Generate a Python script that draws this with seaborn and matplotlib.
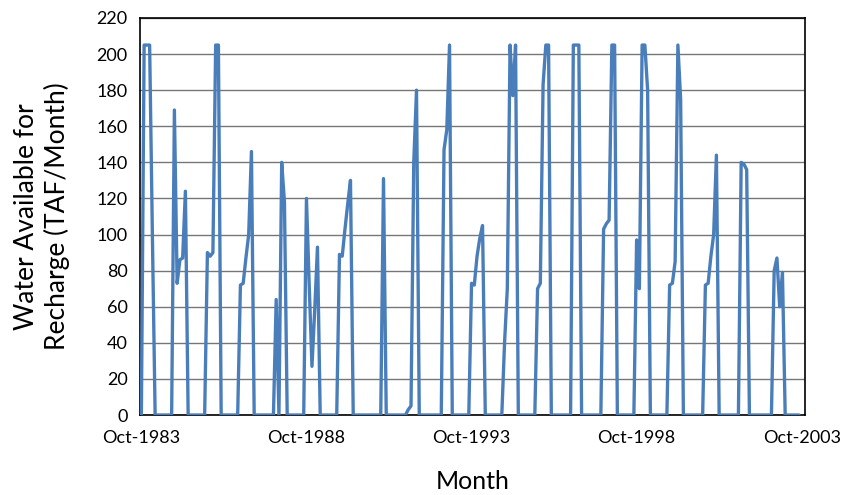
import numpy as np
import pandas as pd
import matplotlib
matplotlib.use("Agg")
import matplotlib.pyplot as plt
import seaborn as sns

# Monthly water available for recharge (TAF/month), one list per water year (Oct-Sep)
wy1984 = [0, 205, 205, 205, 100, 0, 0, 0, 0, 0, 0, 0]
wy1985 = [169, 73, 86, 87, 124, 0, 0, 0, 0, 0, 0, 0]
wy1986 = [90, 88, 90, 205, 205, 0, 0, 0, 0, 0, 0, 0]
wy1987 = [72, 73, 87, 100, 146, 0, 0, 0, 0, 0, 0, 0]
wy1988 = [0, 64, 0, 140, 118, 0, 0, 0, 0, 0, 0, 0]
wy1989 = [120, 72, 27, 58, 93, 0, 0, 0, 0, 0, 0, 0]
wy1990 = [89, 88, 103, 117, 130, 0, 0, 0, 0, 0, 0, 0]
wy1991 = [0, 0, 0, 0, 131, 0, 0, 0, 0, 0, 0, 0]
wy1992 = [0, 3, 5, 140, 180, 0, 0, 0, 0, 0, 0, 0]
wy1993 = [0, 0, 147, 158, 205, 0, 0, 0, 0, 0, 0, 0]
wy1994 = [73, 72, 88, 98, 105, 0, 0, 0, 0, 0, 0, 0]
wy1995 = [40, 70, 205, 177, 205, 0, 0, 0, 0, 0, 0, 0]
wy1996 = [70, 73, 183, 205, 205, 0, 0, 0, 0, 0, 0, 0]
wy1997 = [0, 205, 205, 205, 0, 0, 0, 0, 0, 0, 0, 0]
wy1998 = [103, 106, 108, 205, 205, 0, 0, 0, 0, 0, 0, 0]
wy1999 = [97, 70, 205, 205, 180, 0, 0, 0, 0, 0, 0, 0]
wy2000 = [72, 73, 85, 205, 175, 0, 0, 0, 0, 0, 0, 0]
wy2001 = [0, 72, 73, 88, 100, 144, 0, 0, 0, 0, 0, 0]
wy2002 = [0, 0, 140, 139, 136, 0, 0, 0, 0, 0, 0, 0]
wy2003 = [0, 0, 80, 87, 60, 79, 0, 0, 0, 0, 0, 0]

water_years = [wy1984, wy1985, wy1986, wy1987, wy1988, wy1989, wy1990,
               wy1991, wy1992, wy1993, wy1994, wy1995, wy1996, wy1997,
               wy1998, wy1999, wy2000, wy2001, wy2002, wy2003]

tick_months = [0, 60, 120, 180, 240]
tick_labels = ["Oct-1983", "Oct-1988", "Oct-1993", "Oct-1998", "Oct-2003"]
y_ticks = list(range(0, 221, 20))

values = np.concatenate([np.array(w, dtype=float) for w in water_years])
df = pd.DataFrame({"Month": np.arange(len(values)), "Recharge": values})

sns.set_theme(style="white")
plt.rcParams['font.family'] = ['Lato', 'DejaVu Sans']

fig = plt.figure(figsize=(8.57, 4.95), dpi=100)
ax = fig.add_axes([140 / 857, 1 - 415 / 495, 665 / 857, 397 / 495])

sns.lineplot(data=df, x="Month", y="Recharge", ax=ax, color="#4A7EBB",
             linewidth=2.4, zorder=3)

ax.set_xlim(-0.5, 241.2)
ax.set_ylim(0, 220)
ax.set_yticks(y_ticks)
ax.set_xticks(tick_months)
ax.set_xticklabels(tick_labels)
ax.yaxis.grid(True, color="#767676", linewidth=1)
ax.xaxis.grid(False)
ax.set_axisbelow(True)
for s in ax.spines.values():
    s.set_color("black")
    s.set_linewidth(1.2)

ax.tick_params(axis="x", direction="out", length=5, width=1.2, color="black",
               labelsize=13, pad=6, labelcolor="black")
ax.tick_params(axis="y", length=0, labelsize=13, pad=9, labelcolor="black")

ax.set_xlabel("Month", fontsize=18, color="black", va="top")
ax.xaxis.set_label_coords(0.5, -0.138)
ax.set_ylabel("Water Available for\nRecharge (TAF/Month)", fontsize=19,
              color="black", linespacing=1.25)
ax.yaxis.set_label_coords(-0.105, 0.5)

fig.savefig("out.png", dpi=100)
